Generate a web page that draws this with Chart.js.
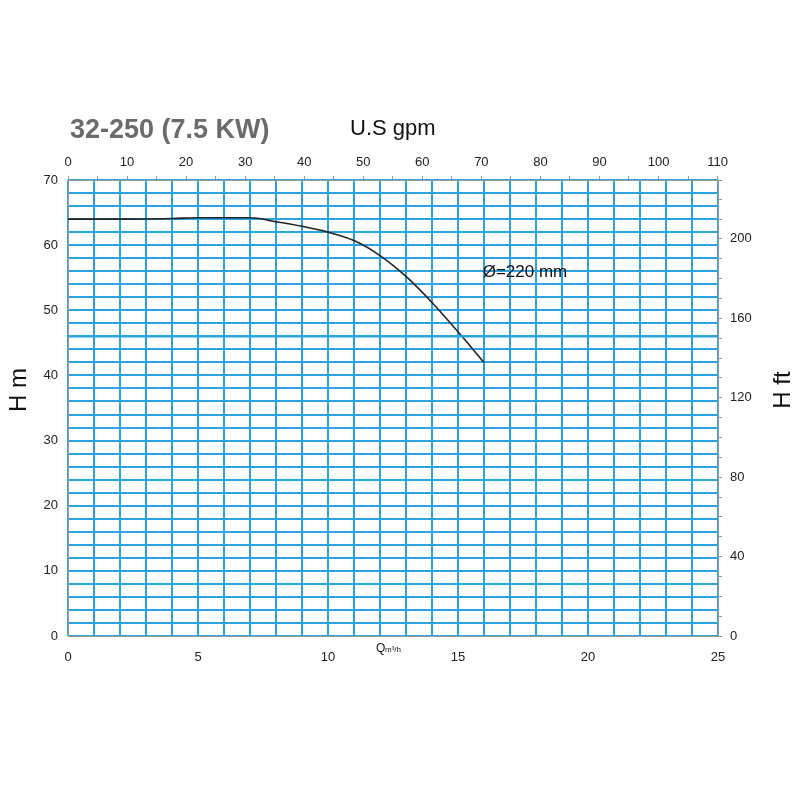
<!DOCTYPE html>
<html><head><meta charset="utf-8">
<script src="https://cdn.jsdelivr.net/npm/chart.js@4"></script>
<style>html,body{margin:0;background:#fff}#wrap{width:800px;height:800px}</style>
</head><body><div id="wrap"><canvas id="c" width="800" height="800"></canvas></div>
<script>
const flowQ = [0, 2, 4, 5, 6, 7, 8, 9, 10, 11, 12, 13, 14, 15, 16];
const headH = [64, 64, 64.1, 64.2, 64.2, 64.2, 63.6, 62.9, 62, 60.7, 58.4, 55.2, 51.2, 46.7, 42];
const gpmTicks = [0, 5, 10, 15, 20, 25, 30, 35, 40, 45, 50, 55, 60, 65, 70, 75, 80, 85, 90, 95, 100, 105, 110];
const refLineH = 46;
const GPM = 4.4029, FT = 3.28084;
const GRID = '#2aa3e0';

const decor = {
    id: 'decor',
    afterDraw(chart) {
        const c = chart.ctx, x = chart.scales.x, y = chart.scales.y;
        c.save();
        c.fillStyle = '#6b6b6b';
        c.font = 'bold 27px "Liberation Sans", Arial, sans-serif';
        c.fillText('32-250 (7.5 KW)', 70, 138);
        c.fillStyle = '#111';
        c.font = '22px "Liberation Sans", Arial, sans-serif';
        c.fillText('U.S gpm', 350, 135);
        c.font = '17px "Liberation Sans", Arial, sans-serif';
        c.fillText('Ø=220 mm', x.getPixelForValue(15.95), y.getPixelForValue(55.1));
        c.font = '12px "Liberation Sans", Arial, sans-serif';
        c.fillText('Q', 376, 652);
        c.font = '8px "Liberation Sans", Arial, sans-serif';
        c.fillText('m³/h', 385, 652);
        c.font = '24px "Liberation Sans", Arial, sans-serif';
        c.translate(26, 390); c.rotate(-Math.PI / 2); c.textAlign = 'center';
        c.fillText('H m', 0, 0);
        c.restore(); c.save();
        c.fillStyle = '#111';
        c.font = '24px "Liberation Sans", Arial, sans-serif';
        c.translate(790, 390); c.rotate(-Math.PI / 2); c.textAlign = 'center';
        c.fillText('H ft', 0, 0);
        c.restore();
    }
};

new Chart(document.getElementById('c'), {
    type: 'line',
    data: {
        datasets: [
            { data: [{x: 0, y: refLineH}, {x: 25, y: refLineH}], borderColor: GRID, borderWidth: 2.5, pointRadius: 0 },
            { data: flowQ.map((q, i) => ({x: q, y: headH[i]})), borderColor: '#222', borderWidth: 1.6, pointRadius: 0, cubicInterpolationMode: 'monotone' }
        ]
    },
    options: {
        responsive: false, animation: false,
        layout: { padding: 0 },
        plugins: { legend: { display: false }, tooltip: { enabled: false } },
        scales: {
            x: {
                type: 'linear', position: 'bottom', min: 0, max: 25,
                afterFit: s => { s.height = 164; },
                grid: { color: GRID, lineWidth: 2, drawTicks: false },
                border: { color: '#999' },
                ticks: { stepSize: 1, padding: 14, color: '#222', font: { size: 13 }, maxRotation: 0, autoSkip: false,
                    callback: v => v % 5 === 0 ? v : '' }
            },
            xTop: {
                type: 'linear', position: 'top', min: 0, max: 25 * GPM,
                afterFit: s => { s.height = 180; },
                afterBuildTicks: s => { s.ticks = gpmTicks.map(v => ({ value: v })); },
                grid: { display: true, drawOnChartArea: false, tickLength: 4, color: '#999' },
                border: { color: '#999' },
                ticks: { padding: 6, color: '#222', font: { size: 13 }, maxRotation: 0, autoSkip: false,
                    callback: v => v % 10 === 0 ? v : '' }
            },
            y: {
                type: 'linear', position: 'left', min: 0, max: 70,
                afterFit: s => { s.width = 68; },
                grid: { color: GRID, lineWidth: 2, drawTicks: false },
                border: { color: '#999' },
                ticks: { stepSize: 2, padding: 10, color: '#222', font: { size: 13 }, autoSkip: false,
                    callback: v => v % 10 === 0 ? v : '' }
            },
            yFt: {
                type: 'linear', position: 'right', min: 0, max: 70 * FT,
                afterFit: s => { s.width = 82; },
                grid: { display: true, drawOnChartArea: false, tickLength: 4, color: '#999' },
                border: { color: '#999' },
                ticks: { stepSize: 10, padding: 8, color: '#222', font: { size: 13 }, autoSkip: false,
                    callback: v => v % 40 === 0 ? v : '' }
            }
        }
    },
    plugins: [decor]
});
</script></body></html>
